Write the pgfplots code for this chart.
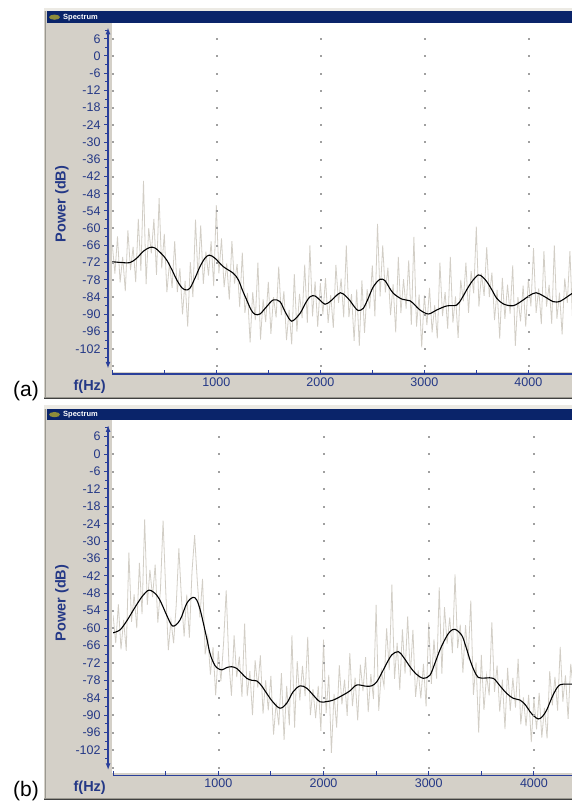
\documentclass[border=0pt]{standalone}
\usepackage{fontspec}
\setmainfont{Liberation Sans}
\usepackage{pgfplots}
\pgfplotsset{compat=1.18}
\usetikzlibrary{arrows.meta}
\definecolor{winGray}{HTML}{D4D0C8}
\definecolor{winLight}{HTML}{ECEAE4}
\definecolor{winDark}{HTML}{404040}
\definecolor{winMid}{HTML}{9A9890}
\definecolor{titleBlue}{HTML}{0A246A}
\definecolor{axBlue}{HTML}{2A3F9A}
\definecolor{lblBlue}{HTML}{243886}
\definecolor{noiseGray}{HTML}{D2CEC6}
\definecolor{dotGray}{HTML}{A0A0A0}
\definecolor{iconOlive}{HTML}{8E8C3A}

\pgfplotsset{
  specstyle/.style={
    scale only axis,
    separate axis lines,
    axis x line=bottom, axis y line=left,
    xmin=0, ymin=-109, ymax=10,
    xtick={0,500,...,4000},
    xticklabels={,,1000,,2000,,3000,,4000},
    ytick={-102,-96,...,6},
    minor ytick={-105,-99,...,9},
    tick align=outside,
    major tick length=4pt, minor tick length=3pt,
    every tick/.style={axBlue, line width=1pt},
    xtick style={yshift=4pt},
    xticklabel style={yshift=4pt},
    axis line style={axBlue, line width=1.5pt},
    x axis line style={-},
    y axis line style={{Latex[length=7pt,width=5pt]}-{Latex[length=7pt,width=5pt]}},
    ticklabel style={font=\fontsize{12.5}{14}\selectfont, text=lblBlue},
    /pgf/number format/assume math mode=true,
    clip=true,
  },
}

\begin{document}
\begin{tikzpicture}[x=1pt,y=1pt]
\useasboundingbox (0,0) rectangle (572,804);

% ---------- panel (a) window ----------
\fill[winGray] (44,405) rectangle (572,796);
\fill[winLight] (44,792.7) rectangle (572,796);
\draw[winMid, line width=1pt] (45.5,405) -- (45.5,793);
\draw[winDark, line width=1pt] (44,405.5) -- (572,405.5);
\draw[winMid, line width=1pt] (44,406.5) -- (572,406.5);
\fill[titleBlue] (47,781) rectangle (572,792.7);
\fill[iconOlive] (54.5,786.8) ellipse [x radius=5.5, y radius=2.6];
\node[anchor=west, text=white, font=\bfseries\fontsize{7.5}{8}\selectfont, inner sep=0pt] at (63,786.8) {Spectrum};
\fill[white] (112,432) rectangle (572,781);

% ---------- panel (b) window ----------
\fill[winGray] (44,4) rectangle (572,399);
\fill[winLight] (44,394.7) rectangle (572,399);
\draw[winMid, line width=1pt] (45.5,4) -- (45.5,395);
\draw[winDark, line width=1pt] (44,4.5) -- (572,4.5);
\draw[winMid, line width=1pt] (44,5.5) -- (572,5.5);
\fill[titleBlue] (47,384) rectangle (572,394.7);
\fill[iconOlive] (54.5,389.4) ellipse [x radius=5.5, y radius=2.6];
\node[anchor=west, text=white, font=\bfseries\fontsize{7.5}{8}\selectfont, inner sep=0pt] at (63,389.4) {Spectrum};
\fill[white] (112,31) rectangle (572,384);

% ---------- axis (a) ----------
\begin{axis}[specstyle,
  at={(572pt,776.7pt)}, anchor=north east,
  width=459.7pt, height=341.5pt,
  xmax=4420,
  axis x line shift=5pt, axis y line shift=4.3pt]
\pgfplotsinvokeforeach{0,1000,2000,3000,4000}{
\addplot[only marks, mark=square*, mark size=0.5pt, color=dotGray, forget plot] coordinates {
(#1,6)(#1,0)(#1,-6)(#1,-12)(#1,-18)(#1,-24)(#1,-30)(#1,-36)(#1,-42)(#1,-48)
(#1,-54)(#1,-60)(#1,-66)(#1,-72)(#1,-78)(#1,-84)(#1,-90)(#1,-96)(#1,-102)(#1,-108)};
}
\addplot[noiseGray, line width=0.8pt] coordinates {
(0,-65.7)(25,-75.8)(50,-62.9)(75,-78.9)(100,-70)(125,-81.9)(150,-60.8)(175,-74.6)(200,-66.5)(225,-78.8)
(250,-56.8)(275,-74.8)(300,-43.5)(325,-79.5)(350,-60)(375,-68.8)(400,-56.8)(425,-76.3)(450,-49.5)(475,-74)
(500,-62)(525,-82.3)(550,-72)(575,-80.8)(600,-64.5)(625,-82.3)(650,-74)(675,-90)(700,-78.4)(725,-94.3)
(750,-71.8)(775,-84)(800,-57)(825,-78)(850,-59)(875,-79.4)(900,-68.2)(925,-76.5)(950,-64.6)(975,-80.2)
(1000,-52)(1025,-75.7)(1050,-63.6)(1075,-80.5)(1100,-72.3)(1125,-84.9)(1150,-64.5)(1175,-79.3)(1200,-72.5)(1225,-87.5)
(1250,-68.5)(1275,-89.5)(1300,-82.6)(1325,-99.8)(1350,-82.3)(1375,-92)(1400,-72)(1425,-98.8)(1450,-84.8)(1475,-92.7)
(1500,-78.7)(1525,-96.8)(1550,-84)(1575,-91.1)(1600,-73.4)(1625,-90.3)(1650,-82)(1675,-99)(1700,-88.5)(1725,-100.5)
(1750,-76)(1775,-96)(1800,-82.9)(1825,-91.3)(1850,-72.7)(1875,-93)(1900,-66)(1925,-90.7)(1950,-78.6)(1975,-94.4)
(2000,-79.2)(2025,-90)(2050,-77.4)(2075,-93)(2100,-83.3)(2125,-94.7)(2150,-72.8)(2175,-86)(2200,-77.6)(2225,-91.1)
(2250,-66)(2275,-91)(2300,-83)(2325,-99.3)(2350,-81.3)(2375,-101)(2400,-78.2)(2425,-96.5)(2450,-81.3)(2475,-88)
(2500,-73)(2525,-90.7)(2550,-58.5)(2575,-83.8)(2600,-66)(2625,-82.4)(2650,-73.8)(2675,-90.3)(2700,-79.6)(2725,-96.3)
(2750,-70)(2775,-89.6)(2800,-77.8)(2825,-88)(2850,-71.2)(2875,-93.7)(2900,-63)(2925,-94.3)(2950,-83.2)(2975,-101.5)
(3000,-83.4)(3025,-93.8)(3050,-80.8)(3075,-96.3)(3100,-86.8)(3125,-98.4)(3150,-72)(3175,-90.6)(3200,-82.3)(3225,-95.1)
(3250,-70)(3275,-92.9)(3300,-83.8)(3325,-98.2)(3350,-78)(3375,-85.5)(3400,-72)(3425,-89.5)(3450,-75)(3475,-82.7)
(3500,-59.5)(3525,-87.3)(3550,-75.8)(3575,-83.6)(3600,-66.6)(3625,-84)(3650,-75.5)(3675,-92)(3700,-81.5)(3725,-98.5)
(3750,-77.3)(3775,-91.6)(3800,-79.7)(3825,-89.8)(3850,-73)(3875,-101)(3900,-84)(3925,-92.5)(3950,-80)(3975,-94.3)
(4000,-77.7)(4025,-87.2)(4050,-67)(4075,-89.5)(4100,-81)(4125,-93.4)(4150,-68)(4175,-87.3)(4200,-79.8)(4225,-93.3)
(4250,-66)(4275,-91.6)(4300,-82.5)(4325,-97)(4350,-77.5)(4375,-86)(4400,-68)(4425,-91.7)};
\addplot[black, line width=1.1pt, smooth, tension=0.55] coordinates {
(0,-71.7)(100,-72.0)(170,-72.0)(234,-70.5)(300,-68.0)(362,-66.7)(410,-66.9)(470,-68.8)(523,-71.1)(580,-75.0)
(619,-78.0)(670,-80.8)(709,-81.5)(747,-80.9)(800,-77.0)(843,-73.4)(890,-70.5)(933,-69.4)(988,-70.5)(1067,-73.4)
(1163,-75.7)(1212,-78.0)(1250,-81.5)(1292,-85.0)(1335,-88.5)(1372,-90.0)(1420,-89.9)(1480,-87.5)(1548,-85.0)(1612,-85.6)
(1660,-89.0)(1709,-92.0)(1740,-92.2)(1805,-89.7)(1860,-86.0)(1901,-83.9)(1949,-83.6)(2000,-85.2)(2045,-86.5)(2093,-85.6)
(2140,-84.0)(2192,-82.5)(2240,-83.5)(2286,-85.3)(2330,-87.5)(2365,-88.7)(2414,-87.9)(2460,-84.5)(2510,-80.4)(2574,-77.8)
(2622,-78.3)(2660,-80.5)(2702,-82.7)(2783,-84.7)(2862,-85.3)(2910,-86.8)(2958,-88.5)(3038,-89.9)(3119,-88.5)(3215,-87.1)
(3311,-86.8)(3360,-84.5)(3407,-81.5)(3460,-78.5)(3519,-76.3)(3560,-77.0)(3600,-78.6)(3650,-81.5)(3696,-84.4)(3760,-86.4)
(3856,-87.0)(3952,-85.0)(4010,-83.5)(4074,-82.5)(4144,-83.6)(4240,-85.6)(4305,-85.5)(4370,-84.0)(4423,-82.7)};
\end{axis}

% ---------- axis (b) ----------
\begin{axis}[specstyle,
  at={(572pt,379pt)}, anchor=north east,
  width=458.9pt, height=345.3pt,
  xmax=4362,
  axis x line shift=5.2pt, axis y line shift=5pt]
\pgfplotsinvokeforeach{0,1000,2000,3000,4000}{
\addplot[only marks, mark=square*, mark size=0.5pt, color=dotGray, forget plot] coordinates {
(#1,6)(#1,0)(#1,-6)(#1,-12)(#1,-18)(#1,-24)(#1,-30)(#1,-36)(#1,-42)(#1,-48)
(#1,-54)(#1,-60)(#1,-66)(#1,-72)(#1,-78)(#1,-84)(#1,-90)(#1,-96)(#1,-102)(#1,-108)};
}
\addplot[noiseGray, line width=0.8pt] coordinates {
(0,-55.6)(25,-65.2)(50,-51.8)(75,-67.3)(100,-57.2)(125,-67.8)(150,-34)(175,-57.8)(200,-48.4)(225,-60)
(250,-37.5)(275,-55.2)(300,-22.5)(325,-52)(350,-39.9)(375,-49.3)(400,-38.1)(425,-58.1)(450,-46.8)(475,-23)
(500,-46.9)(525,-67.6)(550,-57.3)(575,-65.2)(600,-52)(625,-32.5)(650,-50)(675,-62.8)(700,-48.5)(725,-63.3)
(750,-40.5)(775,-28)(800,-43.6)(825,-56.3)(850,-43)(875,-69)(900,-63)(925,-76)(950,-66.6)(975,-83.2)
(1000,-67.9)(1025,-78.3)(1050,-65.2)(1075,-47)(1100,-71.4)(1125,-83.3)(1150,-62.5)(1175,-76.9)(1200,-69.8)(1225,-83.7)
(1250,-58.5)(1275,-83.4)(1300,-74.8)(1325,-90)(1350,-71.1)(1375,-80.5)(1400,-69.4)(1425,-89.5)(1450,-78)(1475,-88.3)
(1500,-76.5)(1525,-96.7)(1550,-85.7)(1575,-93.5)(1600,-75.5)(1625,-98.5)(1650,-79.9)(1675,-93.5)(1700,-62.5)(1725,-94.3)
(1750,-71.4)(1775,-84.9)(1800,-73)(1825,-83.4)(1850,-63)(1875,-90)(1900,-81)(1925,-91)(1950,-79.9)(1975,-95.4)
(2000,-64)(2025,-89.3)(2050,-76.1)(2075,-103)(2100,-82.7)(2125,-94.3)(2150,-72.8)(2175,-86.3)(2200,-77.8)(2225,-90.2)
(2250,-68.6)(2275,-86.9)(2300,-77.1)(2325,-91.8)(2350,-72.6)(2375,-81.7)(2400,-70)(2425,-88.9)(2450,-75.9)(2475,-84.5)
(2500,-52)(2525,-88.5)(2550,-74.8)(2575,-80)(2600,-60.1)(2625,-74.5)(2650,-45)(2675,-77.5)(2700,-65.1)(2725,-81.3)
(2750,-60.4)(2775,-75.7)(2800,-56)(2825,-76.4)(2850,-60.6)(2875,-83.7)(2900,-74.6)(2925,-84.2)(2950,-72.3)(2975,-87)
(3000,-58)(3025,-79.2)(3050,-63.9)(3075,-77.4)(3100,-46)(3125,-75.7)(3150,-52.8)(3175,-65.3)(3200,-56.3)(3225,-68.6)
(3250,-41.5)(3275,-66.9)(3300,-58.8)(3325,-75.3)(3350,-59)(3375,-70.8)(3400,-50.5)(3425,-83)(3450,-71.8)(3475,-96)
(3500,-69.2)(3525,-88.2)(3550,-76.2)(3575,-83.2)(3600,-58)(3625,-82)(3650,-72.9)(3675,-88.8)(3700,-77.8)(3725,-94.8)
(3750,-73.7)(3775,-88.5)(3800,-77.2)(3825,-87.4)(3850,-70.6)(3875,-93.2)(3900,-83.9)(3925,-93.8)(3950,-83)(3975,-99.3)
(4000,-84.3)(4025,-94.9)(4050,-82.3)(4075,-97.7)(4100,-87.5)(4125,-98)(4150,-74.8)(4175,-86.6)(4200,-76.8)(4225,-88.4)
(4250,-66.5)(4275,-85.3)(4300,-76.3)(4325,-91.3)(4350,-72.3)(4375,-81.3)};
\addplot[black, line width=1.1pt, smooth, tension=0.55] coordinates {
(0,-61.6)(66,-60.6)(130,-57.5)(192,-53.8)(240,-51.0)(287,-48.6)(344,-46.9)(414,-48.6)(460,-51.5)(509,-55.5)
(567,-59.3)(636,-57.2)(700,-51.5)(757,-49.4)(795,-50.3)(830,-54.0)(858,-58.3)(890,-63.5)(921,-68.7)(955,-72.0)
(985,-73.6)(1032,-74.4)(1080,-73.6)(1127,-73.3)(1175,-73.9)(1220,-75.5)(1270,-77.3)(1320,-78.0)(1365,-78.2)(1410,-79.8)
(1460,-82.5)(1520,-85.5)(1587,-87.6)(1650,-85.9)(1710,-82.0)(1777,-79.9)(1840,-80.7)(1900,-83.0)(1967,-85.4)(2030,-85.3)
(2093,-84.8)(2189,-83.0)(2252,-81.6)(2316,-79.6)(2400,-80.0)(2458,-79.9)(2506,-78.5)(2560,-75.0)(2601,-72.1)(2650,-69.2)
(2711,-68.1)(2760,-70.0)(2822,-73.3)(2880,-75.8)(2949,-77.3)(3012,-76.2)(3060,-72.0)(3107,-67.5)(3160,-63.5)(3202,-61.2)
(3250,-60.4)(3313,-62.4)(3350,-66.0)(3393,-71.0)(3430,-74.5)(3471,-77.0)(3540,-77.2)(3614,-77.3)(3680,-80.0)(3741,-82.5)
(3804,-84.2)(3868,-84.8)(3920,-86.5)(3963,-88.8)(4000,-90.3)(4042,-91.3)(4080,-90.5)(4122,-88.2)(4170,-84.0)(4217,-80.7)
(4250,-79.5)(4280,-79.3)(4365,-79.3)};
\end{axis}

% ---------- labels ----------
\node[rotate=90, text=lblBlue, font=\bfseries\fontsize{14.5}{15}\selectfont] at (62,600) {Power (dB)};
\node[rotate=90, text=lblBlue, font=\bfseries\fontsize{14.5}{15}\selectfont] at (62,201) {Power (dB)};
\node[anchor=east, text=lblBlue, font=\bfseries\fontsize{14.5}{15}\selectfont, inner sep=0pt] at (106,417.5) {f(Hz)};
\node[anchor=east, text=lblBlue, font=\bfseries\fontsize{14.5}{15}\selectfont, inner sep=0pt] at (106,16.7) {f(Hz)};
\node[anchor=base west, font=\fontsize{21}{22}\selectfont, inner sep=0pt] at (13,407) {(a)};
\node[anchor=base west, font=\fontsize{21}{22}\selectfont, inner sep=0pt] at (13,7) {(b)};
\end{tikzpicture}
\end{document}
